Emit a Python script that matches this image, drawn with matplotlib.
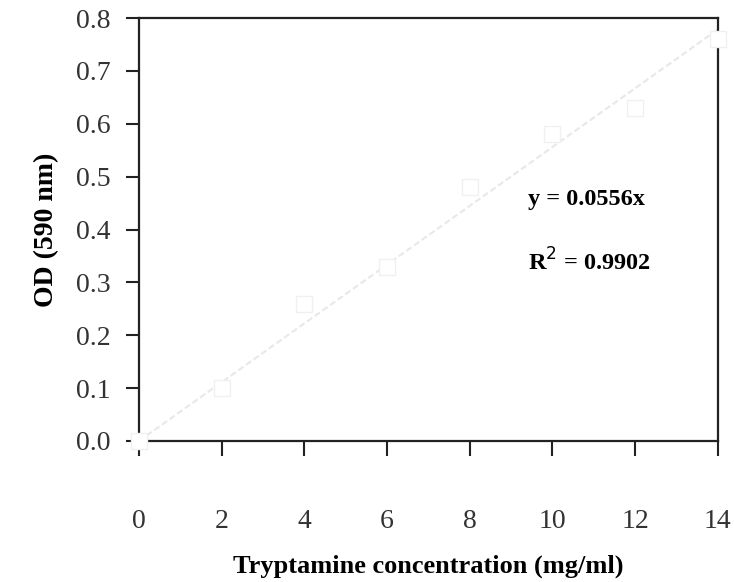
import numpy as np
import matplotlib.pyplot as plt

# tryptamine standard curve
conc = [0, 2, 4, 6, 8, 10, 12, 14]
od = [0.0, 0.10, 0.26, 0.33, 0.48, 0.58, 0.63, 0.76]
slope = 0.0556
r2 = 0.9902

x_ticks = [0, 2, 4, 6, 8, 10, 12, 14]
y_ticks = [0.0, 0.1, 0.2, 0.3, 0.4, 0.5, 0.6, 0.7, 0.8]

plt.rcParams["font.family"] = ["Liberation Serif", "DejaVu Serif"]

fig = plt.figure(figsize=(7.34, 5.82), dpi=100)
ax = fig.add_axes([0.1894, 0.2423, 0.7886, 0.7267])

# trend line through origin
x_fit = np.array([0, 14])
ax.plot(x_fit, slope * x_fit, color="#e8e8e8", lw=1.5, ls=(0, (3, 1.5)), zorder=2)

# white square markers, drawn over the frame like the original
ax.plot(conc, od, ls="none", marker="s", ms=11, mfc="white", mec="#f0f0f0",
        mew=1.0, clip_on=False, zorder=5)

ax.set_xlim(0, 14)
ax.set_ylim(0, 0.8)
ax.set_xticks(x_ticks)
ax.set_yticks(y_ticks)
ax.set_yticklabels([f"{v:.1f}" for v in y_ticks])

for s in ax.spines.values():
    s.set_linewidth(1.6)
    s.set_color("#222222")
    s.set_zorder(3)

ax.tick_params(axis="x", direction="out", length=11, width=1.5, pad=38,
               labelsize=20, colors="#222222", labelcolor="#333333")
ax.tick_params(axis="y", direction="out", length=9.5, width=1.5, pad=11,
               labelsize=20, colors="#222222", labelcolor="#333333")

ax.set_xlabel("Tryptamine concentration (mg/ml)", fontsize=19, fontweight="bold",
              labelpad=15)
ax.set_ylabel("OD (590 nm)", fontsize=20, fontweight="bold", labelpad=12)

ax.text(9.4, 0.456, f"y = {slope}x", fontsize=17.5, fontweight="bold",
        va="center", ha="left")
ax.text(9.4, 0.339, f"R$^{{2}}$ = {r2}", fontsize=17.5, fontweight="bold",
        va="center", ha="left")

plt.savefig("out.png", dpi=100)
plt.close()
